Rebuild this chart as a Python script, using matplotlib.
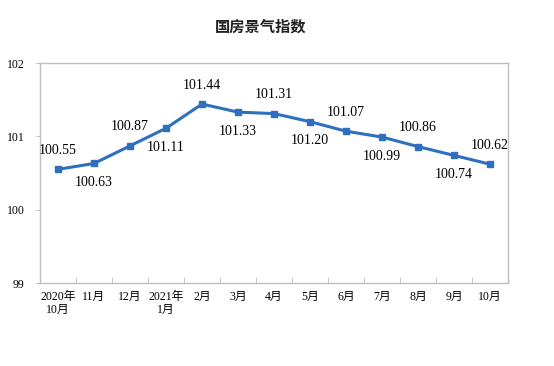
import matplotlib.pyplot as plt
import numpy as np

plt.rcParams['font.family'] = ['Liberation Serif', 'Noto Sans CJK SC']

# data
months = ['2020年\n10月', '11月', '12月', '2021年\n1月', '2月', '3月', '4月',
          '5月', '6月', '7月', '8月', '9月', '10月']
values = [100.55, 100.63, 100.87, 101.11, 101.44, 101.33, 101.31,
          101.20, 101.07, 100.99, 100.86, 100.74, 100.62]
label_above = [True, False, True, False, True, False, True,
               False, True, False, True, False, True]

fig = plt.figure(figsize=(5.54, 3.66), dpi=100)
ax = fig.add_axes([40 / 554, 1 - 283 / 366, 468 / 554, 220 / 366])

x = np.arange(len(values))
ax.plot(x, values, color='#2F6FBF', linewidth=2.2, marker='s', markersize=4.5)

for xi, v, up in zip(x, values, label_above):
    off = 9 if up else -9
    ax.annotate(f'{v:.2f}', (xi, v), xytext=(0, off), textcoords='offset points',
                ha='center', va='bottom' if up else 'top', fontsize=10,
                family='Liberation Serif')

ax.set_xlim(-0.5, len(values) - 0.5)
ax.set_ylim(99, 102)
ax.set_yticks([99, 100, 101, 102])
ax.set_yticklabels(['99', '100', '101', '102'], fontsize=8.5)

ax.set_xticks(x)
ax.set_xticklabels(months, fontsize=8.5, linespacing=1.1)
ax.tick_params(axis='x', length=0, pad=6)
ax.set_xticks(np.arange(0.5, len(values) - 0.5), minor=True)
ax.tick_params(axis='x', which='minor', direction='in', length=4, color='#BFBFBF')
ax.tick_params(axis='y', direction='out', length=3, color='#BFBFBF', pad=8)

for s in ax.spines.values():
    s.set_color('#BFBFBF')
    s.set_linewidth(1.0)

fig.text(261 / 554, 1 - 27 / 366, '国房景气指数', ha='center', va='center', fontsize=11,
         family=['Noto Sans CJK SC'], fontweight='bold', color='#222222')

plt.savefig('out.png', dpi=100)
